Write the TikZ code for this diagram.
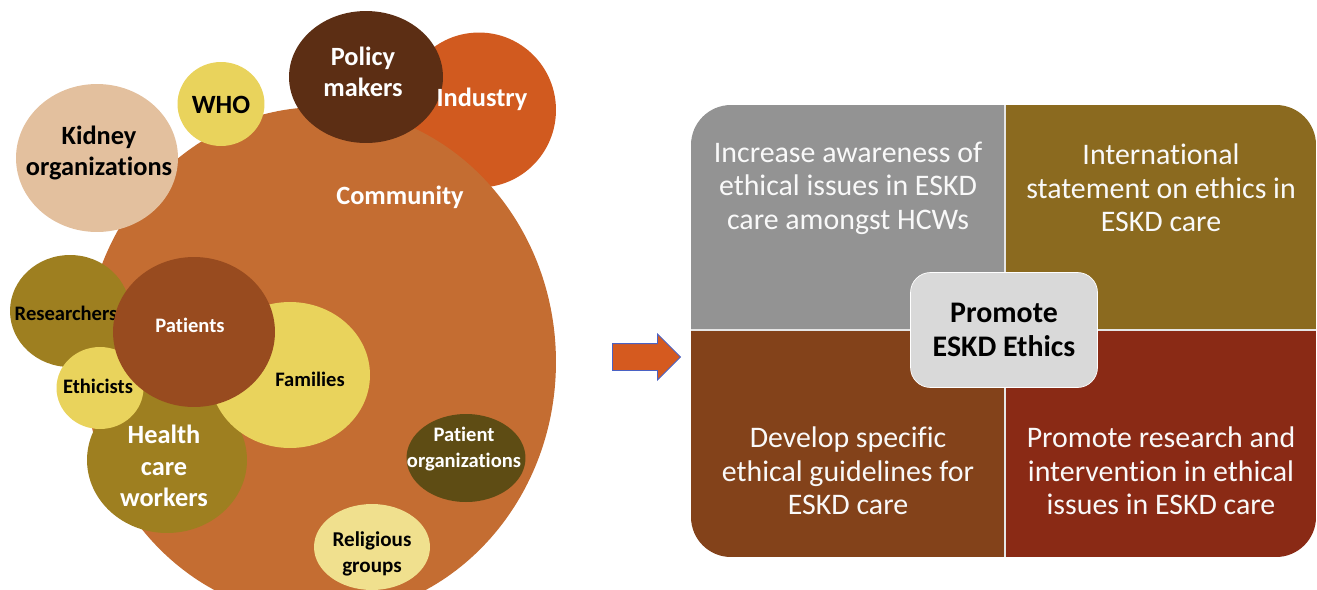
\documentclass[tikz,border=0pt]{standalone}
\usepackage{fontspec}
\setmainfont{Carlito}[Ligatures=NoCommon]
\usetikzlibrary{shapes.arrows}
\definecolor{commcol}{HTML}{C46D32}
\definecolor{kidneycol}{HTML}{E3C09E}
\definecolor{yellowcol}{HTML}{E9D35C}
\definecolor{policycol}{HTML}{5C2E14}
\definecolor{industrycol}{HTML}{D15A1F}
\definecolor{olivecol}{HTML}{9E7F20}
\definecolor{patientcol}{HTML}{984B1F}
\definecolor{porgcol}{HTML}{5E4C14}
\definecolor{religcol}{HTML}{F0E08E}
\definecolor{quadgray}{HTML}{939393}
\definecolor{quadolive}{HTML}{8B6A1F}
\definecolor{quadbrown}{HTML}{83421A}
\definecolor{quadred}{HTML}{8A2A15}
\definecolor{centergray}{HTML}{D9D9D9}
\definecolor{arrowcol}{HTML}{D55A1F}
\definecolor{arrowblue}{HTML}{4A62C4}

\begin{document}
\begin{tikzpicture}[x=0.02cm,y=-0.02cm,
    lab/.style={align=center,inner sep=0pt,font=\bfseries\fontsize{15}{18}\selectfont},
    smalllab/.style={align=center,inner sep=0pt,font=\bfseries\fontsize{11.7}{14.5}\selectfont},
    quadtxt/.style={align=center,inner sep=0pt,text=white!95!gray,
                    font=\fontsize{17}{19}\selectfont}]
  \useasboundingbox (0,0) rectangle (1317,589);
  \clip (0,0) rectangle (1317,589);
  % bubbles round the community
  \fill[industrycol] (479,110) ellipse [x radius=1.54cm, y radius=1.55cm];
  \fill[commcol] (320,362) ellipse [x radius=4.72cm, y radius=5.1cm];
  \fill[kidneycol] (97,158) ellipse [x radius=1.62cm, y radius=1.48cm];
  \fill[yellowcol] (221,104) ellipse [x radius=0.87cm, y radius=0.84cm];
  \fill[policycol] (366,77) ellipse [x radius=1.54cm, y radius=1.32cm];
  \fill[olivecol] (70,311) ellipse [x radius=1.2cm, y radius=1.12cm];
  \node[smalllab] (researchers) at (66,313) {Researchers};
  \fill[olivecol] (167,460) ellipse [x radius=1.6cm, y radius=1.46cm];
  \fill[yellowcol] (100,388) ellipse [x radius=0.87cm, y radius=0.82cm];
  \fill[yellowcol] (290,375) ellipse [x radius=1.6cm, y radius=1.46cm];
  \fill[patientcol] (194,332) ellipse [x radius=1.62cm, y radius=1.5cm];
  \fill[porgcol] (466,458) ellipse [x radius=1.19cm, y radius=0.88cm];
  \fill[religcol] (372,547) ellipse [x radius=1.16cm, y radius=0.86cm];

  \node[lab] (kidney) at (99,153) {Kidney\\organizations};
  \node[lab] (who) at (221,105) {WHO};
  \node[lab,text=white] (policy) at (363,72) {Policy\\makers};
  \node[lab,text=white] (industry) at (482,99) {Industry};
  \node[lab,text=white] (community) at (400,197) {Community};
  \node[smalllab,text=white] (patients) at (190,325) {Patients};
  \node[smalllab] (ethicists) at (98,386) {Ethicists};
  \node[smalllab] (families) at (310,379) {Families};
  \node[lab,text=white] (hcw) at (164,466) {Health\\care\\workers};
  \node[smalllab,text=white] (porg) at (464,449) {Patient\\organizations};
  \node[smalllab,font=\bfseries\fontsize{12}{15}\selectfont] (relig) at (372,554) {Religious\\groups};

  \node[single arrow,fill=arrowcol,draw=arrowblue,line width=0.5pt,inner xsep=0pt,
        inner ysep=0.26cm,minimum height=1.36cm,single arrow head extend=0.19cm,
        single arrow head indent=0pt,anchor=tail] (toaims) at (612,357) {};

  % the four aims
  \begin{scope}
    \clip[rounded corners=0.8cm] (691,105) rectangle (1316,557);
    \fill[quadgray] (691,105) rectangle (1005,330);
    \fill[quadolive] (1005,105) rectangle (1316,330);
    \fill[quadbrown] (691,330) rectangle (1005,557);
    \fill[quadred] (1005,330) rectangle (1316,557);
    \draw[white!80!gray,line width=0.6pt] (1005,105) -- (1005,557) (691,330) -- (1316,330);
  \end{scope}
  \node[quadtxt] (aware) at (848,188) {Increase awareness of\\ethical issues in ESKD\\care amongst HCWs};
  \node[quadtxt] (statement) at (1161,188) {International\\statement on ethics in\\ESKD care};
  \node[quadtxt] (guide) at (848,471) {Develop specific\\ethical guidelines for\\ESKD care};
  \node[quadtxt] (research) at (1161,471) {Promote research and\\intervention in ethical\\issues in ESKD care};
  \node[draw=white,fill=centergray,rounded corners=0.4cm,minimum width=3.74cm,
        minimum height=2.3cm,align=center,font=\bfseries\fontsize{17}{19}\selectfont]
        (promote) at (1004,330) {Promote\\ESKD Ethics};
\end{tikzpicture}
\end{document}
